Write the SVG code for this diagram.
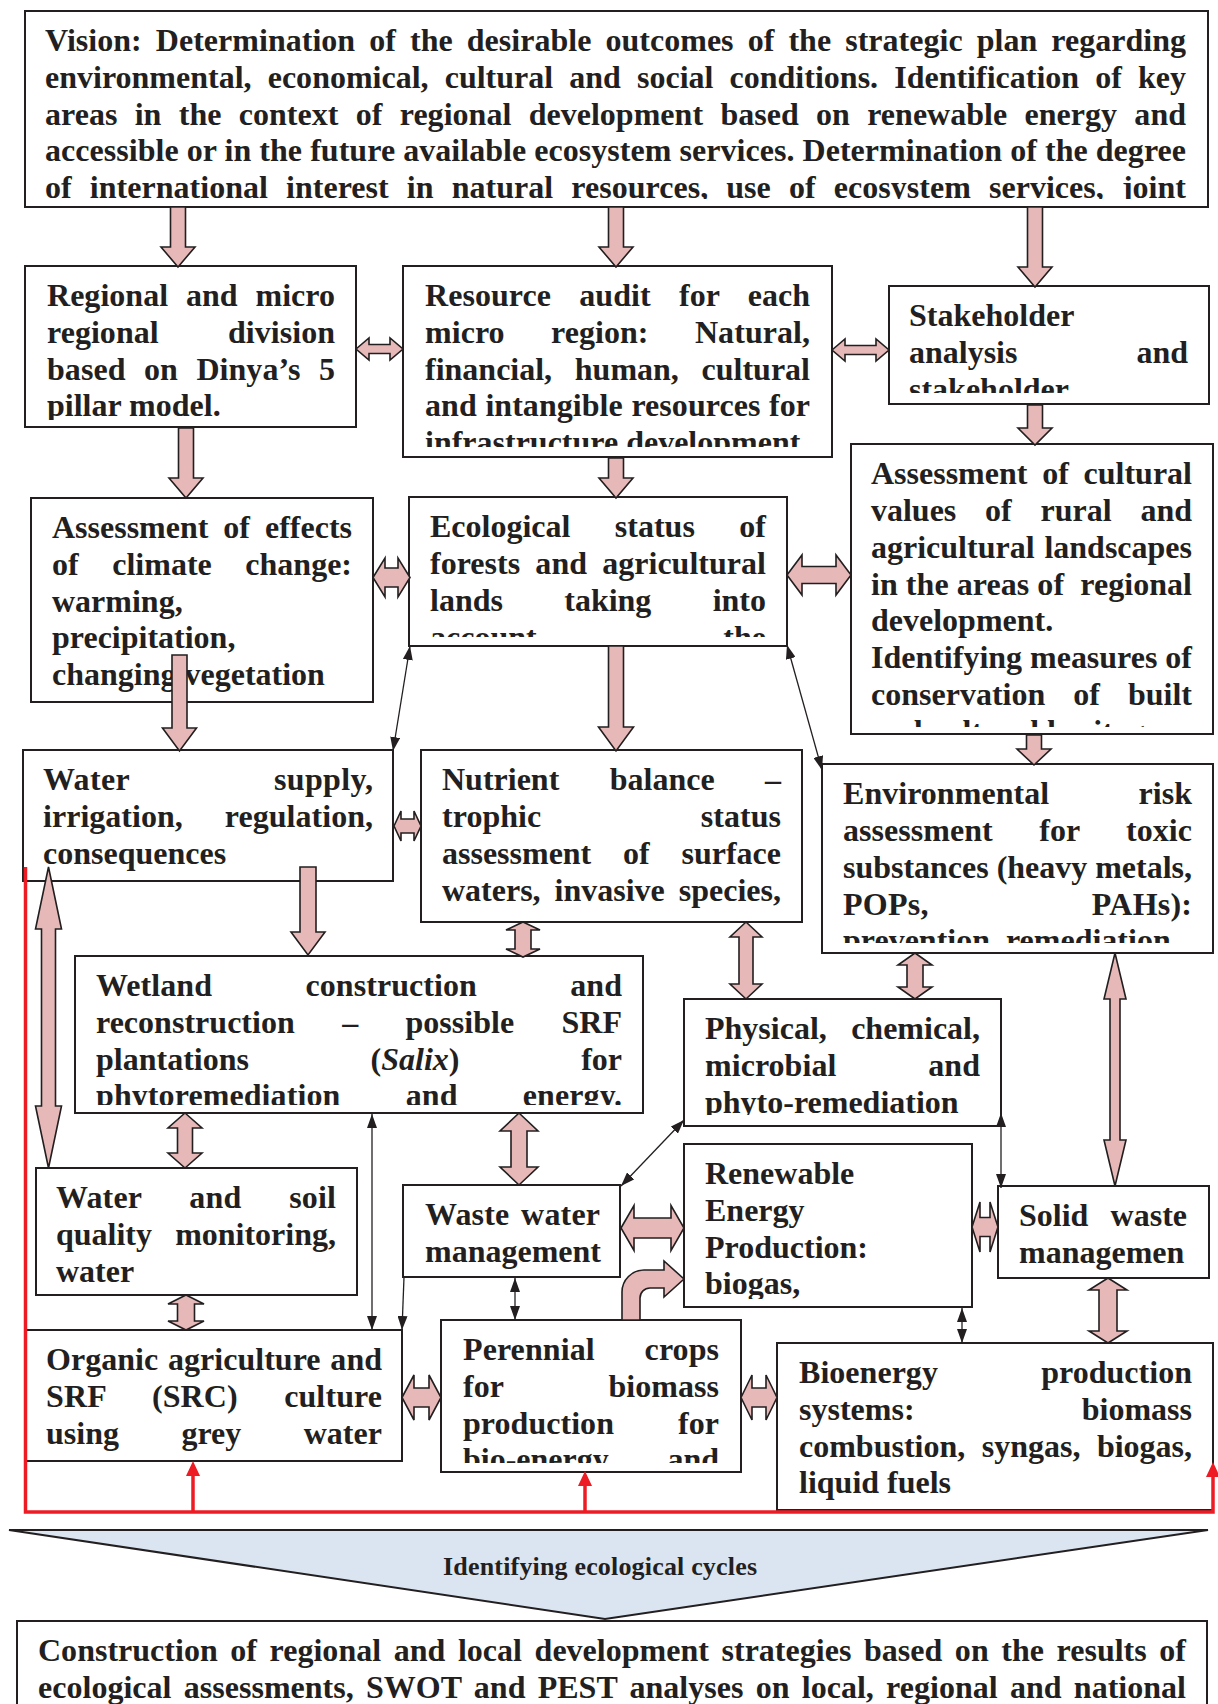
<svg xmlns="http://www.w3.org/2000/svg" width="1218" height="1704" viewBox="0 0 1218 1704">
<style>
.t{font-family:"Liberation Serif","Times New Roman",serif;font-weight:bold;font-size:32px;fill:#231f20}
.box{fill:#fff;stroke:#231f20;stroke-width:2}
.blk{fill:#e6b9b8;stroke:#231f20;stroke-width:1.6;stroke-linejoin:miter}
.thin{fill:none;stroke:#231f20;stroke-width:1.3}
.red{fill:none;stroke:#ed1c24;stroke-width:3.5}
.redh{fill:#ed1c24;stroke:none}
</style>
<defs>
<marker id="ab" viewBox="0 0 14 10" refX="14" refY="5" markerWidth="14" markerHeight="10" markerUnits="userSpaceOnUse" orient="auto-start-reverse"><path d="M0,0 L14,5 L0,10 Z" fill="#231f20"/></marker>
<clipPath id="cA"><rect x="25" y="11" width="1183" height="188"/></clipPath>
<clipPath id="cB"><rect x="25" y="266" width="331" height="154"/></clipPath>
<clipPath id="cC"><rect x="403" y="266" width="429" height="181"/></clipPath>
<clipPath id="cD"><rect x="889" y="286" width="320" height="107"/></clipPath>
<clipPath id="cF"><rect x="409" y="497" width="378" height="140"/></clipPath>
<clipPath id="cG"><rect x="851" y="444" width="362" height="283"/></clipPath>
<clipPath id="cJ"><rect x="822" y="764" width="391" height="179"/></clipPath>
<clipPath id="cK"><rect x="75" y="956" width="568" height="149"/></clipPath>
<clipPath id="cL"><rect x="684" y="999" width="317" height="116"/></clipPath>
<clipPath id="cO"><rect x="684" y="1144" width="288" height="155"/></clipPath>
<clipPath id="cR"><rect x="441" y="1320" width="300" height="143"/></clipPath>
</defs>
<rect width="1218" height="1704" fill="#fff"/>

<g id="vision">
<rect class="box" x="25" y="11" width="1183" height="196"/>
<g class="t" clip-path="url(#cA)">
<text x="45" y="51" textLength="1141" word-spacing="6.02">Vision: Determination of the desirable outcomes of the strategic plan regarding</text>
<text x="45" y="88" textLength="1141" word-spacing="8.06">environmental, economical, cultural and social conditions. Identification of key</text>
<text x="45" y="125" textLength="1141" word-spacing="9.27">areas in the context of regional development based on renewable energy and</text>
<text x="45" y="161" textLength="1141">accessible or in the future available ecosystem services. Determination of the degree</text>
<text x="45" y="198" textLength="1141" word-spacing="10.1">of international interest in natural resources, use of ecosystem services, joint</text>
</g>
</g>

<g id="regional">
<rect class="box" x="25" y="266" width="331" height="161"/>
<g class="t" clip-path="url(#cB)">
<text x="47" y="306" textLength="288" word-spacing="9.8">Regional and micro</text>
<text x="47" y="343" textLength="288" word-spacing="61.3">regional division</text>
<text x="47" y="380" textLength="288" word-spacing="10.4">based on Dinya’s 5</text>
<text x="47" y="416">pillar model.</text>
</g>
</g>

<g id="resource">
<rect class="box" x="403" y="266" width="429" height="191"/>
<g class="t" clip-path="url(#cC)">
<text x="425" y="306" textLength="385" word-spacing="20.2">Resource audit for each</text>
<text x="425" y="343" textLength="385" word-spacing="38.3">micro region: Natural,</text>
<text x="425" y="380" textLength="385" word-spacing="14.7">financial, human, cultural</text>
<text x="425" y="416" textLength="385" word-spacing="0.6">and intangible resources for</text>
<text x="425" y="453">infrastructure development</text>
</g>
</g>

<g id="stakeholder">
<rect class="box" x="889" y="286" width="320" height="118"/>
<g class="t" clip-path="url(#cD)">
<text x="909" y="326">Stakeholder</text>
<text x="909" y="363" textLength="279" word-spacing="111">analysis and</text>
<text x="909" y="400">stakeholder</text>
</g>
</g>

<g id="climate">
<rect class="box" x="31" y="498" width="342" height="204"/>
<g class="t">
<text x="52" y="538" textLength="300" word-spacing="6.95">Assessment of effects</text>
<text x="52" y="575" textLength="300" word-spacing="25.6">of climate change:</text>
<text x="52" y="612">warming,</text>
<text x="52" y="648">precipitation,</text>
<text x="52" y="685">changing vegetation</text>
</g>
</g>

<g id="ecological">
<rect class="box" x="409" y="497" width="378" height="149"/>
<g class="t" clip-path="url(#cF)">
<text x="430" y="537" textLength="336" word-spacing="36.5">Ecological status of</text>
<text x="430" y="574" textLength="336" word-spacing="7.1">forests and agricultural</text>
<text x="430" y="611" textLength="336" word-spacing="53.3">lands taking into</text>
<text x="430" y="648" textLength="336" word-spacing="178.7">account the</text>
</g>
</g>

<g id="cultural">
<rect class="box" x="851" y="444" width="362" height="290"/>
<g class="t" clip-path="url(#cG)">
<text x="871" y="484" textLength="321" word-spacing="6.75">Assessment of cultural</text>
<text x="871" y="521" textLength="321" word-spacing="20.8">values of rural and</text>
<text x="871" y="558" textLength="321" word-spacing="1.9">agricultural landscapes</text>
<text x="871" y="595" textLength="321">in the areas of&#160; regional</text>
<text x="871" y="631">development.</text>
<text x="871" y="668" textLength="321">Identifying measures of</text>
<text x="871" y="705" textLength="321" word-spacing="20">conservation of built</text>
<text x="871" y="742">and cultural heritage</text>
</g>
</g>

<g id="water-supply">
<rect class="box" x="23" y="750" width="370" height="131"/>
<g class="t">
<text x="43" y="790" textLength="330" word-spacing="136.2">Water supply,</text>
<text x="43" y="827" textLength="330" word-spacing="34">irrigation, regulation,</text>
<text x="43" y="864">consequences</text>
</g>
</g>

<g id="nutrient">
<rect class="box" x="421" y="750" width="381" height="172"/>
<g class="t">
<text x="442" y="790" textLength="339" word-spacing="42.4">Nutrient balance –</text>
<text x="442" y="827" textLength="339" word-spacing="151.4">trophic status</text>
<text x="442" y="864" textLength="339" word-spacing="23.8">assessment of surface</text>
<text x="442" y="901" textLength="339" word-spacing="6">waters, invasive species,</text>
</g>
</g>

<g id="env-risk">
<rect class="box" x="822" y="764" width="391" height="189"/>
<g class="t" clip-path="url(#cJ)">
<text x="843" y="804" textLength="349" word-spacing="81.4">Environmental risk</text>
<text x="843" y="841" textLength="349" word-spacing="38.5">assessment for toxic</text>
<text x="843" y="878" textLength="349">substances (heavy metals,</text>
<text x="843" y="915" textLength="349" word-spacing="155">POPs, PAHs):</text>
<text x="843" y="951">prevention, remediation</text>
</g>
</g>

<g id="wetland">
<rect class="box" x="75" y="956" width="568" height="157"/>
<g class="t" clip-path="url(#cK)">
<text x="96" y="996" textLength="526" word-spacing="85.2">Wetland construction and</text>
<text x="96" y="1033" textLength="526" word-spacing="39.3">reconstruction – possible SRF</text>
<text x="96" y="1070" textLength="526" word-spacing="113.6">plantations (<tspan font-style="italic">Salix</tspan>) for</text>
<text x="96" y="1106" textLength="526" word-spacing="57.2">phytoremediation and energy.</text>
</g>
</g>

<g id="physical">
<rect class="box" x="684" y="999" width="317" height="127"/>
<g class="t" clip-path="url(#cL)">
<text x="705" y="1039" textLength="275" word-spacing="16.3">Physical, chemical,</text>
<text x="705" y="1076" textLength="275" word-spacing="83.9">microbial and</text>
<text x="705" y="1113">phyto-remediation</text>
</g>
</g>

<g id="monitoring">
<rect class="box" x="36" y="1168" width="321" height="127"/>
<g class="t">
<text x="56" y="1208" textLength="280" word-spacing="39.5">Water and soil</text>
<text x="56" y="1245" textLength="280" word-spacing="15.1">quality monitoring,</text>
<text x="56" y="1282">water</text>
</g>
</g>

<g id="waste-water">
<rect class="box" x="403" y="1185" width="217" height="92"/>
<g class="t">
<text x="425" y="1225" textLength="175" word-spacing="3.5">Waste water</text>
<text x="425" y="1262">management</text>
</g>
</g>

<g id="renewable">
<rect class="box" x="684" y="1144" width="288" height="163"/>
<g class="t" clip-path="url(#cO)">
<text x="705" y="1184">Renewable</text>
<text x="705" y="1221">Energy</text>
<text x="705" y="1258">Production:</text>
<text x="705" y="1294">biogas,</text>
</g>
</g>

<g id="solid-waste">
<rect class="box" x="998" y="1186" width="211" height="92"/>
<g class="t">
<text x="1019" y="1226" textLength="168" word-spacing="14.2">Solid waste</text>
<text x="1019" y="1263">managemen</text>
</g>
</g>

<g id="organic">
<rect class="box" x="26" y="1330" width="376" height="131"/>
<g class="t">
<text x="46" y="1370" textLength="336" word-spacing="1.8">Organic agriculture and</text>
<text x="46" y="1407" textLength="336" word-spacing="38.2">SRF (SRC) culture</text>
<text x="46" y="1444" textLength="336" word-spacing="54.2">using grey water</text>
</g>
</g>

<g id="perennial">
<rect class="box" x="441" y="1320" width="300" height="152"/>
<g class="t" clip-path="url(#cR)">
<text x="463" y="1360" textLength="256" word-spacing="41.8">Perennial crops</text>
<text x="463" y="1397" textLength="256" word-spacing="96.9">for biomass</text>
<text x="463" y="1434" textLength="256" word-spacing="56">production for</text>
<text x="463" y="1470" textLength="256" word-spacing="50.7">bio-energy and</text>
</g>
</g>

<g id="bioenergy">
<rect class="box" x="777" y="1343" width="436" height="167"/>
<g class="t">
<text x="799" y="1383" textLength="393" word-spacing="95.2">Bioenergy production</text>
<text x="799" y="1420" textLength="393" word-spacing="159.2">systems: biomass</text>
<text x="799" y="1457" textLength="393" word-spacing="8.5">combustion, syngas, biogas,</text>
<text x="799" y="1493">liquid fuels</text>
</g>
</g>

<g id="cycles">
<polygon points="9,1530 1208,1530 605,1619" fill="#dbe5f1" stroke="#231f20" stroke-width="2"/>
<text class="t" x="600" y="1575" text-anchor="middle" style="font-size:26px" textLength="314">Identifying ecological cycles</text>
</g>

<g id="strategies">
<rect class="box" x="17" y="1621" width="1190" height="100"/>
<g class="t">
<text x="38" y="1661" textLength="1148" word-spacing="4.57">Construction of regional and local development strategies based on the results of</text>
<text x="38" y="1698" textLength="1148" word-spacing="4.21">ecological assessments, SWOT and PEST analyses on local, regional and national</text>
</g>
</g>

<g id="connectors">
<path class="blk" d="M170.5,207 L185.5,207 L185.5,247 L195,247 L178,267 L161,247 L170.5,247 Z"/>
<path class="blk" d="M608.5,207 L623.5,207 L623.5,247 L633,247 L616,267 L599,247 L608.5,247 Z"/>
<path class="blk" d="M1027.5,207 L1042.5,207 L1042.5,267 L1052,267 L1035,287 L1018,267 L1027.5,267 Z"/>
<path class="blk" d="M1027.5,405 L1042.5,405 L1042.5,428 L1052,428 L1035,445 L1018,428 L1027.5,428 Z"/>
<path class="blk" d="M178.5,428 L193.5,428 L193.5,478 L203,478 L186,498 L169,478 L178.5,478 Z"/>
<path class="blk" d="M608.5,458 L623.5,458 L623.5,478 L633,478 L616,498 L599,478 L608.5,478 Z"/>
<path class="blk" d="M608.5,646 L623.5,646 L623.5,727 L633.5,727 L616,751 L598.5,727 L608.5,727 Z"/>
<path class="blk" d="M172,655 L187,655 L187,728 L196.5,728 L179.5,751 L162.5,728 L172,728 Z"/>
<path class="blk" d="M1026.5,735 L1041.5,735 L1041.5,749 L1051,749 L1034,765 L1017,749 L1026.5,749 Z"/>
<path class="blk" d="M300,867 L316,867 L316,932 L325,932 L308,955 L291,932 L300,932 Z"/>

<path class="blk" d="M356,349 L369,338 L369,344.5 L390,344.5 L390,338 L403,349 L390,360 L390,353.5 L369,353.5 L369,360 Z"/>
<path class="blk" d="M832,350 L845,339 L845,345.5 L876,345.5 L876,339 L889,350 L876,361 L876,354.5 L845,354.5 L845,361 Z"/>
<path class="blk" d="M373,577.5 L385,558 L385,568 L398,568 L398,558 L410,577.5 L398,597 L398,587 L385,587 L385,597 Z"/>
<path class="blk" d="M787,575 L802,555 L802,566.5 L836,566.5 L836,555 L851,575 L836,595 L836,583.5 L802,583.5 L802,595 Z"/>
<path class="blk" d="M394,826 L401,811 L401,819 L414,819 L414,811 L421,826 L414,841 L414,833 L401,833 L401,841 Z"/>
<path class="blk" d="M621,1228 L634,1205.5 L634,1218 L671,1218 L671,1205.5 L684,1228 L671,1250.5 L671,1238 L634,1238 L634,1250.5 Z"/>
<path class="blk" d="M972,1227 L980,1202 L980,1217.5 L990,1217.5 L990,1202 L998,1227 L990,1252 L990,1236.5 L980,1236.5 L980,1252 Z"/>
<path class="blk" d="M402,1397.5 L414,1375 L414,1388 L429,1388 L429,1375 L441,1397.5 L429,1420 L429,1407 L414,1407 L414,1420 Z"/>
<path class="blk" d="M741,1397.5 L752,1375 L752,1388 L766,1388 L766,1375 L777,1397.5 L766,1420 L766,1407 L752,1407 L752,1420 Z"/>

<path class="blk" d="M48.5,867 L61.5,929 L55.5,929 L55.5,1106 L61.5,1106 L48.5,1168 L35.5,1106 L41.5,1106 L41.5,929 L35.5,929 Z"/>
<path class="blk" d="M523,922 L540,930 L531,930 L531,949 L540,949 L523,957 L506,949 L515,949 L515,930 L506,930 Z"/>
<path class="blk" d="M746,922 L762,937 L753,937 L753,984 L762,984 L746,999 L730,984 L739,984 L739,937 L730,937 Z"/>
<path class="blk" d="M915,953 L932,965 L923,965 L923,987 L932,987 L915,999 L898,987 L907,987 L907,965 L898,965 Z"/>
<path class="blk" d="M1115,953 L1126,999 L1120,999 L1120,1140 L1126,1140 L1115,1186 L1104,1140 L1110,1140 L1110,999 L1104,999 Z"/>
<path class="blk" d="M185,1113 L202,1128 L192.5,1128 L192.5,1153 L202,1153 L185,1168 L168,1153 L177.5,1153 L177.5,1128 L168,1128 Z"/>
<path class="blk" d="M519,1113 L538,1131 L527,1131 L527,1167 L538,1167 L519,1185 L500,1167 L511,1167 L511,1131 L500,1131 Z"/>
<path class="blk" d="M186,1295 L204,1304 L194.5,1304 L194.5,1321 L204,1321 L186,1330 L168,1321 L177.5,1321 L177.5,1304 L168,1304 Z"/>
<path class="blk" d="M1108,1278 L1127,1290 L1117,1290 L1117,1331 L1127,1331 L1108,1343 L1089,1331 L1099,1331 L1099,1290 L1089,1290 Z"/>

<path class="blk" d="M622,1320 L622,1292 A22,22 0 0 1 644,1270 L664,1270 L664,1261 L684,1279 L664,1297 L664,1288 L650,1288 A10,10 0 0 0 640,1298 L640,1320 Z"/>

<line class="thin" x1="393" y1="751" x2="410" y2="646" marker-start="url(#ab)" marker-end="url(#ab)"/>
<line class="thin" x1="787" y1="645" x2="822" y2="770" marker-start="url(#ab)" marker-end="url(#ab)"/>
<line class="thin" x1="372" y1="1114" x2="372" y2="1330" marker-start="url(#ab)" marker-end="url(#ab)"/>
<line class="thin" x1="404" y1="1277" x2="402" y2="1330" marker-end="url(#ab)"/>
<line class="thin" x1="515" y1="1278" x2="515" y2="1320" marker-start="url(#ab)" marker-end="url(#ab)"/>
<line class="thin" x1="621" y1="1186" x2="684" y2="1120" marker-start="url(#ab)" marker-end="url(#ab)"/>
<line class="thin" x1="1001" y1="1113" x2="1001" y2="1188" marker-start="url(#ab)" marker-end="url(#ab)"/>
<line class="thin" x1="962" y1="1308" x2="962" y2="1343" marker-start="url(#ab)" marker-end="url(#ab)"/>

<path class="red" d="M25.5,867 L25.5,1512 L1213,1512 L1213,1476"/>
<path class="red" d="M193,1512 L193,1475"/>
<path class="red" d="M585,1512 L585,1485"/>
<polygon class="redh" points="193,1461 200,1476 186,1476"/>
<polygon class="redh" points="585,1471 592,1486 578,1486"/>
<polygon class="redh" points="1213,1462 1220,1477 1206,1477"/>
</g>
</svg>
